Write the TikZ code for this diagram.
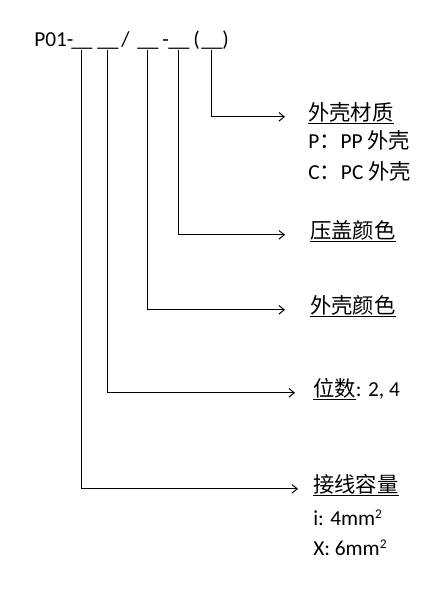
\documentclass[tikz,border=0pt]{standalone}
\usepackage{fontspec}
\setmainfont{Carlito}
\newfontfamily\cjk{Noto Sans CJK SC}
\usetikzlibrary{arrows.meta}
\newcommand{\sqtwo}{\raisebox{0.6ex}{\fontsize{10}{10}\selectfont 2}}
\tikzstyle{txt} = [inner sep=0pt, anchor=base west,
        font=\fontsize{16}{19}\selectfont]
\tikzstyle{head} = [txt]
\tikzset{arr/.style={-{Straight Barb[length=4pt,width=6.5pt]}, line width=0.75pt}}

\begin{document}
\begin{tikzpicture}[x=0.75pt, y=-0.75pt]
    \useasboundingbox (0,0) rectangle (446,600);
    \node [txt] (pre) at (34,46.5) {P01-};
    \node [txt] (u1) at (71,46.5) {\_\_};
    \node [txt] (u2) at (97,46.5) {\_\_};
    \node [txt] (sl) at (121,46.5) {/};
    \node [txt] (u3) at (137,46.5) {\_\_};
    \node [txt] (da) at (162,46.5) {-};
    \node [txt] (u4) at (168,46.5) {\_\_};
    \node [txt] (lp) at (193,46.5) {(};
    \node [txt] (u5) at (201,46.5) {\_\_};
    \node [txt] (rp) at (222,46.5) {)};

    \node [head] (mat) at (308,120) {\underline{\cjk 外壳材质}};
    \node [txt] (pp) at (308,148) {P{\cjk ：}PP {\cjk 外壳}};
    \node [txt] (pc) at (308,179) {C{\cjk ：}PC {\cjk 外壳}};
    \node [head] (lid) at (310,238) {\underline{\cjk 压盖颜色}};
    \node [head] (shell) at (310,313) {\underline{\cjk 外壳颜色}};
    \node [head] (dig) at (313,396) {\underline{\cjk 位数}: 2, 4};
    \node [head] (cap) at (313,492) {\underline{\cjk 接线容量}};
    \node [txt] (mm4) at (313,525) {i: 4mm\sqtwo};
    \node [txt] (mm6) at (313,555) {X: 6mm\sqtwo};

    \draw[arr, shorten >=17.25pt] (u5.south) |- (mat.mid west);
    \draw[arr, shorten >=18.75pt] (u4.south) |- (lid.mid west);
    \draw[arr, shorten >=18.75pt] (u3.south) |- (shell.mid west);
    \draw[arr, shorten >=13.5pt] (u2.south) |- (dig.mid west);
    \draw[arr, shorten >=11.25pt] (u1.south) |- (cap.mid west);
\end{tikzpicture}
\end{document}
